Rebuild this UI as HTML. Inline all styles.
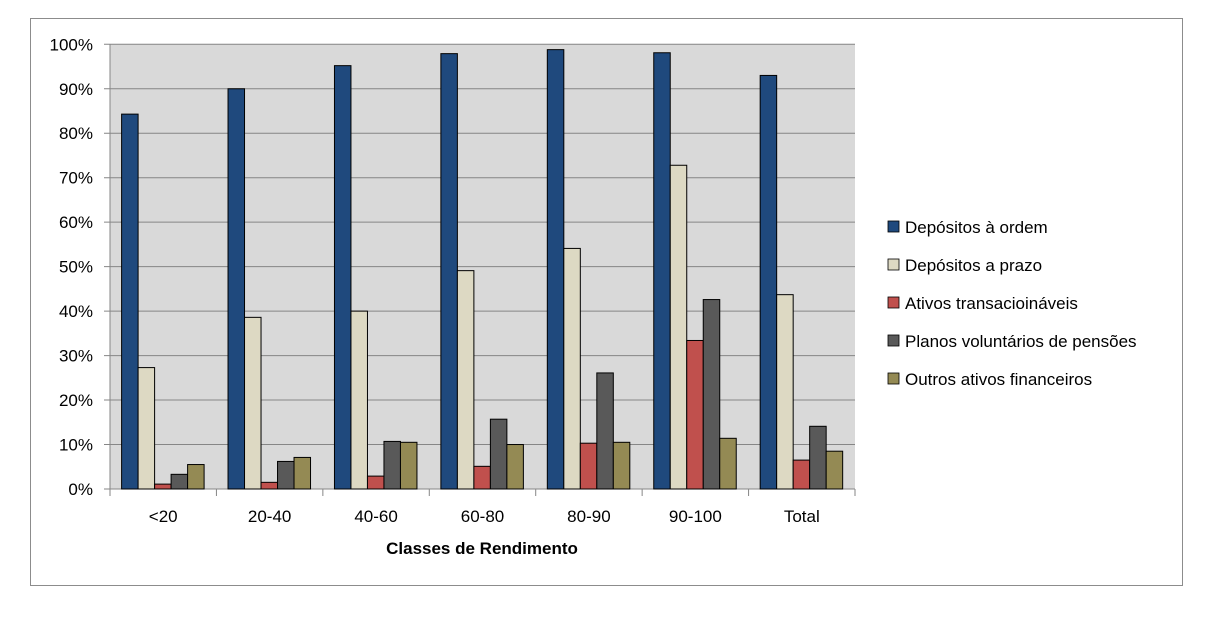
<!DOCTYPE html>
<html><head><meta charset="utf-8"><style>
body{margin:0;background:#fff;font-family:"Liberation Sans",Arial,sans-serif}
</style></head><body>
<svg width="1212" height="624" xmlns="http://www.w3.org/2000/svg">
<rect x="30.5" y="18.5" width="1152" height="567" fill="#fff" stroke="#8c8c8c"/>
<g id="plot"></g>
</svg>
<script>
const categories=["<20","20-40","40-60","60-80","80-90","90-100","Total"];
const seriesNames=["Depósitos à ordem","Depósitos a prazo","Ativos transacioináveis","Planos voluntários de pensões","Outros ativos financeiros"];
const depOrdem=[84.3,90.0,95.2,97.9,98.8,98.1,93.0];
const depPrazo=[27.3,38.6,40.0,49.1,54.1,72.8,43.7];
const ativosTrans=[1.1,1.5,2.9,5.1,10.3,33.4,6.5];
const planos=[3.3,6.2,10.7,15.7,26.1,42.6,14.1];
const outros=[5.5,7.1,10.5,10.0,10.5,11.4,8.5];
const yTicks=[0,10,20,30,40,50,60,70,80,90,100];
const colors=["#1f497d","#ddd9c3","#c0504d","#595959","#948a54"];
const series=[depOrdem,depPrazo,ativosTrans,planos,outros];
const NS="http://www.w3.org/2000/svg";
const g=document.getElementById('plot');
const L=110,R=855,T=44.3,B=489;
const y=v=>B-(v/100)*(B-T);
const gw=(R-L)/categories.length, bw=16.5, off=11.6;
function el(t,a,txt){const e=document.createElementNS(NS,t);for(const k in a)e.setAttribute(k,a[k]);if(txt!==undefined)e.textContent=txt;g.appendChild(e);return e;}
let bg=el('rect',{x:L,y:T,width:R-L,height:B-T,fill:'#d9d9d9'});


yTicks.forEach(t=>{
 let ln=el('line',{x1:L-6,x2:R,y1:y(t),y2:y(t),stroke:'#868686','stroke-width':1});
 
 
 let tx=el('text',{x:L-17,y:y(t)+6,'text-anchor':'end','font-size':17,fill:'#000'},t+'%');
 
 
});
let ax=el('line',{x1:L,x2:L,y1:T,y2:B,stroke:'#868686'});


for(let i=0;i<=categories.length;i++){
 let tk=el('line',{x1:L+i*gw,x2:L+i*gw,y1:B,y2:B+7,stroke:'#868686'});
 
 
}
categories.forEach((c,i)=>{
 series.forEach((s,j)=>{
  const v=s[i];
  let r=el('rect',{x:L+i*gw+off+j*bw,y:y(v),width:bw,height:B-y(v),fill:colors[j],stroke:'#000','stroke-width':1});
  
  
 });
 let tx=el('text',{x:L+i*gw+gw/2,y:522,'text-anchor':'middle','font-size':17},c);
 
 
});
let xt=el('text',{x:482,y:554,'text-anchor':'middle','font-size':17,'font-weight':'bold'},'Classes de Rendimento');


seriesNames.forEach((n,j)=>{
 const ly=227+j*38;
 let sq=el('rect',{x:888,y:ly-6,width:11,height:11,fill:colors[j],stroke:'#000','stroke-width':0.8});
 
 
 let tx=el('text',{x:905,y:ly+6,'font-size':17},n);
 
 
});
</script>
</body></html>
